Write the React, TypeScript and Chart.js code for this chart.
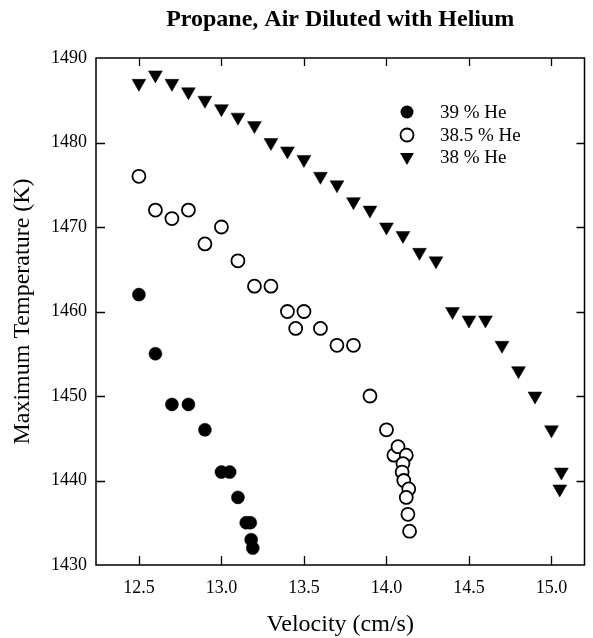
import React, { useEffect, useRef } from 'react';
import { Chart, registerables } from 'chart.js';

Chart.register(...registerables);

const FONT = "'Liberation Serif', 'Times New Roman', Times, serif";

const chartTitle = 'Propane, Air Diluted with Helium';
const xAxisTitle = 'Velocity (cm/s)';
const yAxisTitle = 'Maximum Temperature (K)';
const seriesLabels = ['39 % He', '38.5 % He', '38 % He'];

// 39 % He (filled circles)
const velocity39 = [12.5, 12.6, 12.7, 12.8, 12.9, 13.0, 13.05, 13.1, 13.15, 13.175, 13.18, 13.19];
const temperature39 = [1462, 1455, 1449, 1449, 1446, 1441, 1441, 1438, 1435, 1435, 1433, 1432];

// 38.5 % He (open circles)
const velocity385 = [
  12.5, 12.6, 12.7, 12.8, 12.9, 13.0, 13.1, 13.2, 13.3, 13.4, 13.45, 13.5, 13.6, 13.7, 13.8, 13.9,
  14.0, 14.045, 14.07, 14.12, 14.1, 14.095, 14.105, 14.135, 14.12, 14.13, 14.14,
];
const temperature385 = [
  1476, 1472, 1471, 1472, 1468, 1470, 1466, 1463, 1463, 1460, 1458, 1460, 1458, 1456, 1456, 1450,
  1446, 1443, 1444, 1443, 1442, 1441, 1440, 1439, 1438, 1436, 1434,
];

// 38 % He (filled down-triangles)
const velocity38 = [
  12.5, 12.6, 12.7, 12.8, 12.9, 13.0, 13.1, 13.2, 13.3, 13.4, 13.5, 13.6, 13.7, 13.8, 13.9, 14.0,
  14.1, 14.2, 14.3, 14.4, 14.5, 14.6, 14.7, 14.8, 14.9, 15.0, 15.06, 15.05,
];
const temperature38 = [
  1487, 1488, 1487, 1486, 1485, 1484, 1483, 1482, 1480, 1479, 1478, 1476, 1475, 1473, 1472, 1470,
  1469, 1467, 1466, 1460, 1459, 1459, 1456, 1453, 1450, 1446, 1441, 1439,
];

const xRange = [12.24, 15.2];
const yRange = [1430, 1490];
const xStep = 0.5;
const yStep = 10;

const toPoints = (xs: number[], ys: number[]) => xs.map((x, i) => ({ x, y: ys[i] }));

function drawSymbol(ctx: CanvasRenderingContext2D, kind: number, x: number, y: number) {
  ctx.save();
  ctx.strokeStyle = '#000';
  ctx.fillStyle = '#000';
  if (kind === 0) {
    ctx.beginPath();
    ctx.arc(x, y, 6.5, 0, Math.PI * 2);
    ctx.fill();
  } else if (kind === 1) {
    ctx.beginPath();
    ctx.arc(x, y, 6.5, 0, Math.PI * 2);
    ctx.fillStyle = '#fff';
    ctx.fill();
    ctx.lineWidth = 1.8;
    ctx.stroke();
  } else {
    const r = 8;
    ctx.beginPath();
    ctx.moveTo(x, y + r);
    ctx.lineTo(x - r * Math.sin(Math.PI / 3), y - r / 2);
    ctx.lineTo(x + r * Math.sin(Math.PI / 3), y - r / 2);
    ctx.closePath();
    ctx.fill();
  }
  ctx.restore();
}

const framePlugin = {
  id: 'frameAndDecor',
  beforeDatasetsDraw(chart: any) {
    const { ctx, chartArea, scales } = chart;
    const { left, right, top, bottom } = chartArea;
    const xs = scales.x;
    const ys = scales.y;
    ctx.save();
    ctx.strokeStyle = '#000';
    ctx.lineWidth = 1.5;
    ctx.strokeRect(left, top, right - left, bottom - top);
    ctx.lineWidth = 1.3;
    ctx.beginPath();
    xs.ticks.forEach((t: any) => {
      const px = Math.round(xs.getPixelForValue(t.value)) + 0.5;
      if (px <= left + 1 || px >= right - 1) return;
      ctx.moveTo(px, bottom);
      ctx.lineTo(px, bottom - 9);
      ctx.moveTo(px, top);
      ctx.lineTo(px, top + 8);
    });
    ys.ticks.forEach((t: any) => {
      const py = Math.round(ys.getPixelForValue(t.value)) + 0.5;
      if (py <= top + 1 || py >= bottom - 1) return;
      ctx.moveTo(left, py);
      ctx.lineTo(left + 9, py);
      ctx.moveTo(right, py);
      ctx.lineTo(right - 8, py);
    });
    ctx.stroke();
    ctx.restore();
  },
  afterDraw(chart: any) {
    const { ctx, chartArea } = chart;
    const { left, right, top } = chartArea;
    ctx.save();
    ctx.fillStyle = '#000';
    ctx.font = `bold 24px ${FONT}`;
    ctx.textAlign = 'center';
    ctx.textBaseline = 'alphabetic';
    ctx.fillText(chartTitle, (left + right) / 2, 26);

    ctx.font = `19px ${FONT}`;
    ctx.textAlign = 'left';
    ctx.textBaseline = 'middle';
    const symX = left + 311;
    const textX = left + 344;
    const rowY = [top + 54, top + 77, top + 99];
    seriesLabels.forEach((lab, i) => {
      drawSymbol(ctx, i, symX, rowY[i]);
      ctx.fillText(lab, textX, rowY[i] + 1);
    });
    ctx.restore();
  },
};

export default function App() {
  const canvasRef = useRef<HTMLCanvasElement | null>(null);

  useEffect(() => {
    document.body.style.margin = '0';
    const canvas = canvasRef.current;
    if (!canvas) return;
    const chart = new Chart(canvas, {
      type: 'scatter',
      data: {
        datasets: [
          {
            label: seriesLabels[0],
            data: toPoints(velocity39, temperature39),
            pointStyle: 'circle',
            pointRadius: 6.5,
            pointBackgroundColor: '#000',
            pointBorderColor: '#000',
            pointBorderWidth: 0.5,
            showLine: false,
          },
          {
            label: seriesLabels[1],
            data: toPoints(velocity385, temperature385),
            pointStyle: 'circle',
            pointRadius: 6.5,
            pointBackgroundColor: '#fff',
            pointBorderColor: '#000',
            pointBorderWidth: 1.8,
            showLine: false,
          },
          {
            label: seriesLabels[2],
            data: toPoints(velocity38, temperature38),
            pointStyle: 'triangle',
            pointRotation: 180,
            pointRadius: 8,
            pointBackgroundColor: '#000',
            pointBorderColor: '#000',
            pointBorderWidth: 0.5,
            showLine: false,
          },
        ],
      },
      options: {
        responsive: false,
        animation: false,
        devicePixelRatio: 1,
        events: [],
        layout: { padding: { left: 0, top: 58, right: 4, bottom: 0 } },
        plugins: {
          legend: { display: false },
          title: { display: false },
          tooltip: { enabled: false },
        },
        scales: {
          x: {
            type: 'linear',
            position: 'bottom',
            min: xRange[0],
            max: xRange[1],
            afterFit: (s: any) => {
              s.height = 73;
            },
            grid: { display: false, drawTicks: false },
            border: { display: false },
            ticks: {
              stepSize: xStep,
              includeBounds: false,
              padding: 12,
              color: '#000',
              maxRotation: 0,
              autoSkip: false,
              font: { family: FONT, size: 18 },
              callback: (v: any) => Number(v).toFixed(1),
            },
            title: {
              display: true,
              text: xAxisTitle,
              color: '#000',
              font: { family: FONT, size: 24, lineHeight: 1.1 },
              padding: { top: 0, bottom: 0 },
            },
          },
          y: {
            type: 'linear',
            position: 'left',
            min: yRange[0],
            max: yRange[1],
            afterFit: (s: any) => {
              s.width = 96;
            },
            grid: { display: false, drawTicks: false },
            border: { display: false },
            ticks: {
              stepSize: yStep,
              padding: 9,
              color: '#000',
              font: { family: FONT, size: 18 },
              callback: (v: any) => String(Math.round(Number(v))),
            },
            title: {
              display: true,
              text: yAxisTitle,
              color: '#000',
              font: { family: FONT, size: 24, lineHeight: 1.1 },
              padding: { top: 10, bottom: 0 },
            },
          },
        },
      },
      plugins: [framePlugin],
    } as any);
    return () => chart.destroy();
  }, []);

  return (
    <div style={{ width: 593, height: 638 }}>
      <canvas ref={canvasRef} width={593} height={638} style={{ width: 593, height: 638, display: 'block' }} />
    </div>
  );
}
